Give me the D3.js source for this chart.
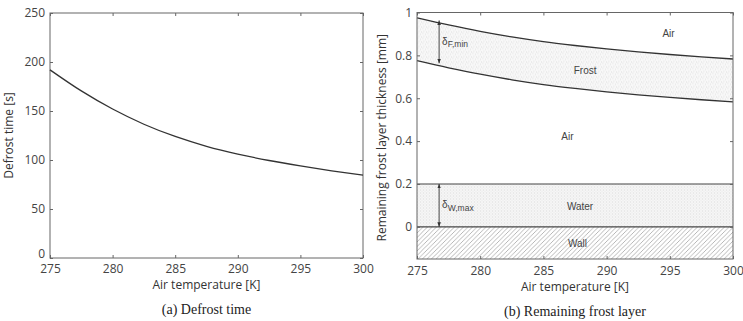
<!DOCTYPE html>
<html>
<head>
<meta charset="utf-8">
<script src="https://cdn.jsdelivr.net/npm/d3@7"></script>
<style>
  body { margin: 0; background: #fff; }
  svg { display: block; }
  .tick text { font-family: "Open Sans", sans-serif; font-size: 12px; fill: #444; }
  .tick line { stroke: #666; }
  .domain { display: none; }
  .axis-title { font-family: "Open Sans", sans-serif; font-size: 12px; fill: #333; }
  .caption { font-family: "Liberation Serif", serif; font-size: 14px; fill: #222; }
  .region { font-family: "Liberation Sans", sans-serif; font-size: 10px; fill: #444; }
</style>
</head>
<body>
<svg id="chart" width="743" height="321"></svg>
<script>
// air temperature [K]
const temps = [275, 277.5, 280, 282.5, 285, 287.5, 290, 292.5, 295, 297.5, 300];
// (a) defrost time [s]
const defrostTime = [192, 170.5, 152, 136.5, 124, 114, 106, 99.5, 94, 89, 84.5];
// (b) frost layer boundaries [mm]
const frostTop = [0.975, 0.942, 0.912, 0.886, 0.864, 0.846, 0.83, 0.816, 0.804, 0.793, 0.783];
const frostBottom = [0.775, 0.742, 0.712, 0.686, 0.664, 0.646, 0.63, 0.616, 0.604, 0.593, 0.583];
const waterTop = 0.2;
const wallTop = 0;
const leftTicksY = [0, 50, 100, 150, 200, 250];
const rightTicksY = [0, 0.2, 0.4, 0.6, 0.8, 1];
const ticksX = [275, 280, 285, 290, 295, 300];
const regionLabels = [
  { text: 'Air', t: 294.9, v: 0.90 },
  { text: 'Frost', t: 288.3, v: 0.729 },
  { text: 'Air', t: 286.9, v: 0.42 },
  { text: 'Water', t: 287.9, v: 0.096 },
  { text: 'Wall', t: 287.7, v: -0.08 }
];

const svg = d3.select('#chart');
const defs = svg.append('defs');

// stipple for frost
const pf = defs.append('pattern').attr('id', 'frostFill').attr('width', 5).attr('height', 5)
  .attr('patternUnits', 'userSpaceOnUse');
pf.append('rect').attr('width', 5).attr('height', 5).attr('fill', '#f8f8f8');
[[0.5, 0.5], [3, 1.5], [1.5, 3.5], [4, 4]].forEach(p =>
  pf.append('rect').attr('x', p[0]).attr('y', p[1]).attr('width', 0.8).attr('height', 0.8).attr('fill', '#d0d0d0'));

// fine grid for water
const pw = defs.append('pattern').attr('id', 'waterFill').attr('width', 3).attr('height', 3)
  .attr('patternUnits', 'userSpaceOnUse');
pw.append('rect').attr('width', 3).attr('height', 3).attr('fill', '#f7f7f7');
pw.append('rect').attr('x', 0).attr('y', 0).attr('width', 1).attr('height', 1).attr('fill', '#dadada');
pw.append('rect').attr('x', 1.5).attr('y', 1.5).attr('width', 1).attr('height', 1).attr('fill', '#e2e2e2');

// diagonal hatch for wall
const ph = defs.append('pattern').attr('id', 'wallFill').attr('width', 4.5).attr('height', 4.5)
  .attr('patternUnits', 'userSpaceOnUse');
ph.append('rect').attr('width', 4.5).attr('height', 4.5).attr('fill', '#fff');
ph.append('path').attr('d', 'M0,4.5 L4.5,0 M-1,1 L1,-1 M3.5,5.5 L5.5,3.5')
  .attr('stroke', '#999').attr('stroke-width', 0.7);

['arrowS', 'arrowE'].forEach(id => {
  defs.append('marker').attr('id', id).attr('viewBox', '0 0 10 10')
    .attr('refX', 10).attr('refY', 5).attr('markerWidth', 5).attr('markerHeight', 5)
    .attr('orient', 'auto-start-reverse')
    .append('path').attr('d', 'M0,1 L10,5 L0,9 Z').attr('fill', '#333');
});

function frame(g, w, h) {
  g.append('rect').attr('width', w).attr('height', h)
    .attr('fill', 'none').attr('stroke', '#666').attr('stroke-width', 1);
}

// ---------- (a) Defrost time ----------
{
  const L = 50, T = 13, W = 313, H = 245;
  const g = svg.append('g').attr('transform', `translate(${L},${T})`);
  const x = d3.scaleLinear().domain([275, 300]).range([0, W]);
  const y = d3.scaleLinear().domain([0, 250]).range([H, 0]);

  g.append('g').attr('transform', `translate(0,${H})`)
    .call(d3.axisBottom(x).tickValues(ticksX).tickSize(-3).tickPadding(6));
  g.append('g').call(d3.axisTop(x).tickValues(ticksX).tickSize(-3).tickFormat(''));
  const yAx = g.append('g').call(d3.axisLeft(y).tickValues(leftTicksY).tickSize(-3).tickPadding(5));
  // the "0" label sits just above the "275" label, as in the original
  yAx.selectAll('.tick text').filter(d => d === 0).attr('dy', '-0.05em');
  g.append('g').attr('transform', `translate(${W},0)`)
    .call(d3.axisRight(y).tickValues(leftTicksY).tickSize(-3).tickFormat(''));
  frame(g, W, H);

  g.append('path').datum(temps)
    .attr('fill', 'none').attr('stroke', '#333').attr('stroke-width', 1.3)
    .attr('d', d3.line().x(d => x(d)).y((d, i) => y(defrostTime[i])).curve(d3.curveMonotoneX));

  g.append('text').attr('class', 'axis-title').attr('text-anchor', 'middle')
    .attr('x', W / 2).attr('y', H + 31).text('Air temperature [K]');
  g.append('text').attr('class', 'axis-title').attr('text-anchor', 'middle')
    .attr('transform', `translate(${-37},${H / 2}) rotate(-90)`).text('Defrost time [s]');
  g.append('text').attr('class', 'caption').attr('text-anchor', 'middle')
    .attr('x', W / 2).attr('y', H + 56).text('(a) Defrost time');
}

// ---------- (b) Remaining frost layer ----------
{
  const L = 417, T = 12.5, W = 316, H = 246.5;
  const g = svg.append('g').attr('transform', `translate(${L},${T})`);
  const x = d3.scaleLinear().domain([275, 300]).range([0, W]);
  const y = d3.scaleLinear().domain([-0.15, 1]).range([H, 0]);

  // regions
  g.append('rect').attr('x', 0).attr('width', W)
    .attr('y', y(wallTop)).attr('height', y(-0.15) - y(wallTop)).attr('fill', 'url(#wallFill)');
  g.append('rect').attr('x', 0).attr('width', W)
    .attr('y', y(waterTop)).attr('height', y(wallTop) - y(waterTop)).attr('fill', 'url(#waterFill)');
  g.append('path').datum(temps).attr('fill', 'url(#frostFill)')
    .attr('d', d3.area().x(d => x(d)).y0((d, i) => y(frostBottom[i])).y1((d, i) => y(frostTop[i]))
      .curve(d3.curveMonotoneX));

  const line = arr => d3.line().x(d => x(d)).y((d, i) => y(arr[i])).curve(d3.curveMonotoneX);
  [frostTop, frostBottom].forEach(arr =>
    g.append('path').datum(temps).attr('fill', 'none').attr('stroke', '#333').attr('stroke-width', 1.3)
      .attr('d', line(arr)));
  [waterTop, wallTop].forEach(v =>
    g.append('line').attr('x1', 0).attr('x2', W).attr('y1', y(v)).attr('y2', y(v))
      .attr('stroke', '#444').attr('stroke-width', 1.2));

  g.append('g').attr('transform', `translate(0,${H})`)
    .call(d3.axisBottom(x).tickValues(ticksX).tickSize(-3).tickPadding(7));
  g.append('g').call(d3.axisTop(x).tickValues(ticksX).tickSize(-3).tickFormat(''));
  g.append('g').call(d3.axisLeft(y).tickValues(rightTicksY).tickSize(-3).tickPadding(5).tickFormat(d3.format('~g')));
  g.append('g').attr('transform', `translate(${W},0)`)
    .call(d3.axisRight(y).tickValues(rightTicksY).tickSize(-3).tickFormat(''));
  frame(g, W, H);

  // dimension arrows
  const tA = 276.75;
  const arrows = [
    { v0: frostTop[0] - 0.012, v1: frostBottom[0] - 0.012, label: 'F,min' },
    { v0: waterTop, v1: wallTop, label: 'W,max' }
  ];
  arrows.forEach(a => {
    g.append('line').attr('x1', x(tA)).attr('x2', x(tA)).attr('y1', y(a.v0)).attr('y2', y(a.v1))
      .attr('stroke', '#333').attr('stroke-width', 0.9)
      .attr('marker-start', 'url(#arrowS)').attr('marker-end', 'url(#arrowE)');
    const t = g.append('text').attr('class', 'region')
      .attr('x', x(tA) + 3).attr('y', (y(a.v0) + y(a.v1)) / 2 + 3);
    t.append('tspan').text('δ');
    t.append('tspan').attr('dy', 2.5).attr('font-size', '8.5px').text(a.label);
  });

  g.selectAll('.region-label').data(regionLabels).enter().append('text')
    .attr('class', 'region region-label').attr('text-anchor', 'middle')
    .attr('x', d => x(d.t)).attr('y', d => y(d.v) + 3.5).text(d => d.text);

  g.append('text').attr('class', 'axis-title').attr('text-anchor', 'middle')
    .attr('x', W / 2).attr('y', H + 32).text('Air temperature [K]');
  g.append('text').attr('class', 'axis-title').attr('text-anchor', 'middle')
    .attr('transform', `translate(${-31},${H / 2 + 2}) rotate(-90)`).text('Remaining frost layer thickness [mm]');
  g.append('text').attr('class', 'caption').attr('text-anchor', 'middle')
    .attr('x', W / 2).attr('y', H + 57).text('(b) Remaining frost layer');
}
</script>
</body>
</html>
